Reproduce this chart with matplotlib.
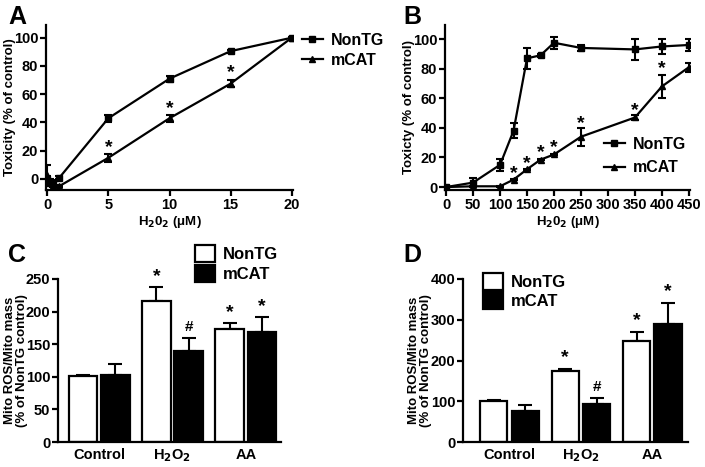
import numpy as np
import matplotlib
matplotlib.use("Agg")
import matplotlib.pyplot as plt
from matplotlib.lines import Line2D
from matplotlib.patches import Patch

plt.rcParams['font.family'] = ['Liberation Sans', 'DejaVu Sans']
plt.rcParams['font.weight'] = 'bold'
plt.rcParams['mathtext.default'] = 'bf'

# ---------- Panel A data ----------
a_x = [0, 0.25, 0.5, 1, 5, 10, 15, 20]
a_nontg = [0, -3, -3, 1, 43, 71, 90.5, 100]
a_nontg_err = [2, 2, 2, 1, 2.5, 2, 1, 0.5]
a_mcat = [3, -2, -4, -5, 15, 43, 67.5, 100]
a_mcat_err = [7, 2, 2, 1, 3, 2.5, 2.5, 0.5]
a_star_x = [5, 10, 15]
a_star_y = [22, 50, 75]

# ---------- Panel B data ----------
b_x = [0, 50, 100, 125, 150, 175, 200, 250, 350, 400, 450]
b_nontg = [0, 3, 15, 38, 87, 89, 97.5, 94, 93, 95, 96]
b_nontg_err = [1, 3, 4, 5, 7, 1, 4, 2, 7, 5, 4]
b_mcat = [0, 0.5, 0.5, 5, 12, 18.5, 22, 34, 47, 68, 81]
b_mcat_err = [0.5, 0.5, 0.5, 0.5, 0.5, 0.5, 0.5, 6, 2, 8, 3]
b_star_x = [125, 150, 175, 200, 250, 350, 400]
b_star_y = [9, 16, 23, 27, 43, 52, 80]

# ---------- Panel C / D data ----------
groups = ['Control', 'H$_2$O$_2$', 'AA']
c_nontg = [101, 216, 174]
c_nontg_err = [2, 22, 8]
c_mcat = [102, 140, 169]
c_mcat_err = [18, 20, 22]
c_marks_nontg = ['', '*', '*']
c_marks_mcat = ['', '#', '*']

d_nontg = [100, 174, 248]
d_nontg_err = [3, 6, 22]
d_mcat = [77, 93, 289]
d_mcat_err = [13, 15, 53]
d_marks_nontg = ['', '*', '*']
d_marks_mcat = ['', '#', '*']

W, H = 705, 467
fig = plt.figure(figsize=(W / 100, H / 100), dpi=100)

def ax_px(l, t, r, b):
    return fig.add_axes([l / W, 1 - b / H, (r - l) / W, (b - t) / H])

TICK_FS = 10.5
LAB_FS = 9.5
LW = 1.6

def style(ax):
    for s in ['top', 'right']:
        ax.spines[s].set_visible(False)
    for s in ['left', 'bottom']:
        ax.spines[s].set_linewidth(LW)
    ax.tick_params(width=LW, length=4, labelsize=TICK_FS, pad=1.5)
    for lab in ax.get_xticklabels() + ax.get_yticklabels():
        lab.set_fontweight('bold')

line_handles = [Line2D([], [], color='black', marker='s', ms=5, lw=LW, label='NonTG'),
                Line2D([], [], color='black', marker='^', ms=5, lw=LW, label='mCAT')]

# ---------- Panel A ----------
axA = ax_px(46, 25, 293, 190)
axA.errorbar(a_x, a_nontg, yerr=a_nontg_err, color='black', marker='s', ms=5,
             lw=LW, capsize=3, capthick=1.5, elinewidth=1.5, label='NonTG')
axA.errorbar(a_x, a_mcat, yerr=a_mcat_err, color='black', marker='^', ms=5,
             lw=LW, capsize=3, capthick=1.5, elinewidth=1.5, label='mCAT')
for x, y in zip(a_star_x, a_star_y):
    axA.text(x, y, '*', ha='center', va='center', fontsize=14, fontweight='bold')
axA.set_xlim(-0.1, 20.1)
axA.set_ylim(-7.8, 109)
axA.set_xticks([0, 5, 10, 15, 20])
axA.set_yticks([0, 20, 40, 60, 80, 100])
axA.set_xlabel('H$_2$0$_2$ (μM)', fontsize=LAB_FS, fontweight='bold', labelpad=2)
axA.set_ylabel('Toxicity (% of control)', fontsize=LAB_FS, fontweight='bold', va='center')
axA.yaxis.set_label_coords((10 - 46) / 247, 0.5)
style(axA)
axA.legend(handles=line_handles, loc='upper left', bbox_to_anchor=(1.01, 0.99), frameon=False,
           handlelength=1.3, handletextpad=0.5, borderaxespad=0.0,
           labelspacing=0.3, prop={'weight': 'bold', 'size': 11.5})
fig.text(8 / W, 1 - 17 / H, 'A', fontsize=18, fontweight='bold', va='center', ha='left')

# ---------- Panel B ----------
axB = ax_px(445, 25, 690, 190)
axB.errorbar(b_x, b_nontg, yerr=b_nontg_err, color='black', marker='s', ms=5,
             lw=LW, capsize=3, capthick=1.5, elinewidth=1.5, label='NonTG')
axB.errorbar(b_x, b_mcat, yerr=b_mcat_err, color='black', marker='^', ms=5,
             lw=LW, capsize=3, capthick=1.5, elinewidth=1.5, label='mCAT')
for x, y in zip(b_star_x, b_star_y):
    axB.text(x, y, '*', ha='center', va='center', fontsize=14, fontweight='bold')
axB.set_xlim(-2, 452)
axB.set_ylim(-2, 109.5)
axB.set_xticks(list(range(0, 451, 50)))
axB.set_yticks([0, 20, 40, 60, 80, 100])
axB.set_xlabel('H$_2$0$_2$ (μM)', fontsize=LAB_FS, fontweight='bold', labelpad=2)
axB.set_ylabel('Toxicty (% of control)', fontsize=LAB_FS, fontweight='bold', va='center')
axB.yaxis.set_label_coords((409 - 445) / 245, 0.5)
style(axB)
axB.legend(handles=line_handles, loc='lower right', bbox_to_anchor=(1.01, 0.05), frameon=False,
           handlelength=1.3, handletextpad=0.5, borderaxespad=0.0,
           labelspacing=0.55, prop={'weight': 'bold', 'size': 11.5})
fig.text(403 / W, 1 - 17 / H, 'B', fontsize=18, fontweight='bold', va='center', ha='left')

# ---------- Bar panels ----------
def bar_panel(ax, nt, nte, mc, mce, mk_nt, mk_mc, ylim, yticks, width, off, xlim, star_pad, lab_x):
    x = np.arange(len(groups))
    ax.bar(x - off, nt, width, color='white', edgecolor='black', linewidth=LW, zorder=2)
    ax.bar(x + off, mc, width, color='black', edgecolor='black', linewidth=LW, zorder=2)
    ax.errorbar(x - off, nt, yerr=[np.zeros(len(nt)), nte], fmt='none', ecolor='black',
                elinewidth=1.5, capsize=5, capthick=1.5, zorder=1)
    ax.errorbar(x + off, mc, yerr=[np.zeros(len(mc)), mce], fmt='none', ecolor='black',
                elinewidth=1.5, capsize=5, capthick=1.5, zorder=1)
    for xi, v, e, m in zip(x - off, nt, nte, mk_nt):
        if m:
            ax.text(xi, v + e + star_pad, m, ha='center', va='center', fontsize=14 if m == '*' else 11, fontweight='bold')
    for xi, v, e, m in zip(x + off, mc, mce, mk_mc):
        if m:
            ax.text(xi, v + e + star_pad, m, ha='center', va='center', fontsize=14 if m == '*' else 11, fontweight='bold')
    ax.set_xlim(*xlim)
    ax.set_ylim(*ylim)
    ax.set_yticks(yticks)
    ax.set_xticks(x)
    ax.set_xticklabels(groups)
    ax.set_ylabel('Mito ROS/Mito mass\n(% of NonTG control)', fontsize=9.5,
                  fontweight='bold', linespacing=0.95, va='center')
    ax.yaxis.set_label_coords(lab_x, 0.5)
    style(ax)
    ax.tick_params(axis='x', length=0, pad=4)

handles = [Patch(facecolor='white', edgecolor='black', linewidth=LW, label='NonTG'),
           Patch(facecolor='black', edgecolor='black', linewidth=LW, label='mCAT')]

axC = ax_px(58, 279, 281, 442)
bar_panel(axC, c_nontg, c_nontg_err, c_mcat, c_mcat_err, c_marks_nontg, c_marks_mcat,
          (0, 250), [0, 50, 100, 150, 200, 250], 0.39, 0.22, (-0.56, 2.48), 16,
          (16 - 58) / 223)
axC.legend(handles=handles, loc='lower left', bbox_to_anchor=((188 - 58) / 223, 0.94),
           frameon=False, handlelength=1.2, handleheight=1.2, handletextpad=0.5,
           borderaxespad=0.0, labelspacing=0.15, prop={'weight': 'bold', 'size': 12})
fig.text(8 / W, 1 - 255 / H, 'C', fontsize=18, fontweight='bold', va='center', ha='left')

axD = ax_px(463, 279, 688, 442)
bar_panel(axD, d_nontg, d_nontg_err, d_mcat, d_mcat_err, d_marks_nontg, d_marks_mcat,
          (0, 400), [0, 100, 200, 300, 400], 0.38, 0.22, (-0.65, 2.5), 28,
          (420 - 463) / 225)
axD.legend(handles=handles, loc='upper left', bbox_to_anchor=((476 - 463) / 225, 1.08),
           frameon=False, handlelength=1.2, handleheight=1.2, handletextpad=0.5,
           borderaxespad=0.0, labelspacing=0.15, prop={'weight': 'bold', 'size': 12})
fig.text(403 / W, 1 - 255 / H, 'D', fontsize=18, fontweight='bold', va='center', ha='left')

fig.savefig('out.png', dpi=100)
